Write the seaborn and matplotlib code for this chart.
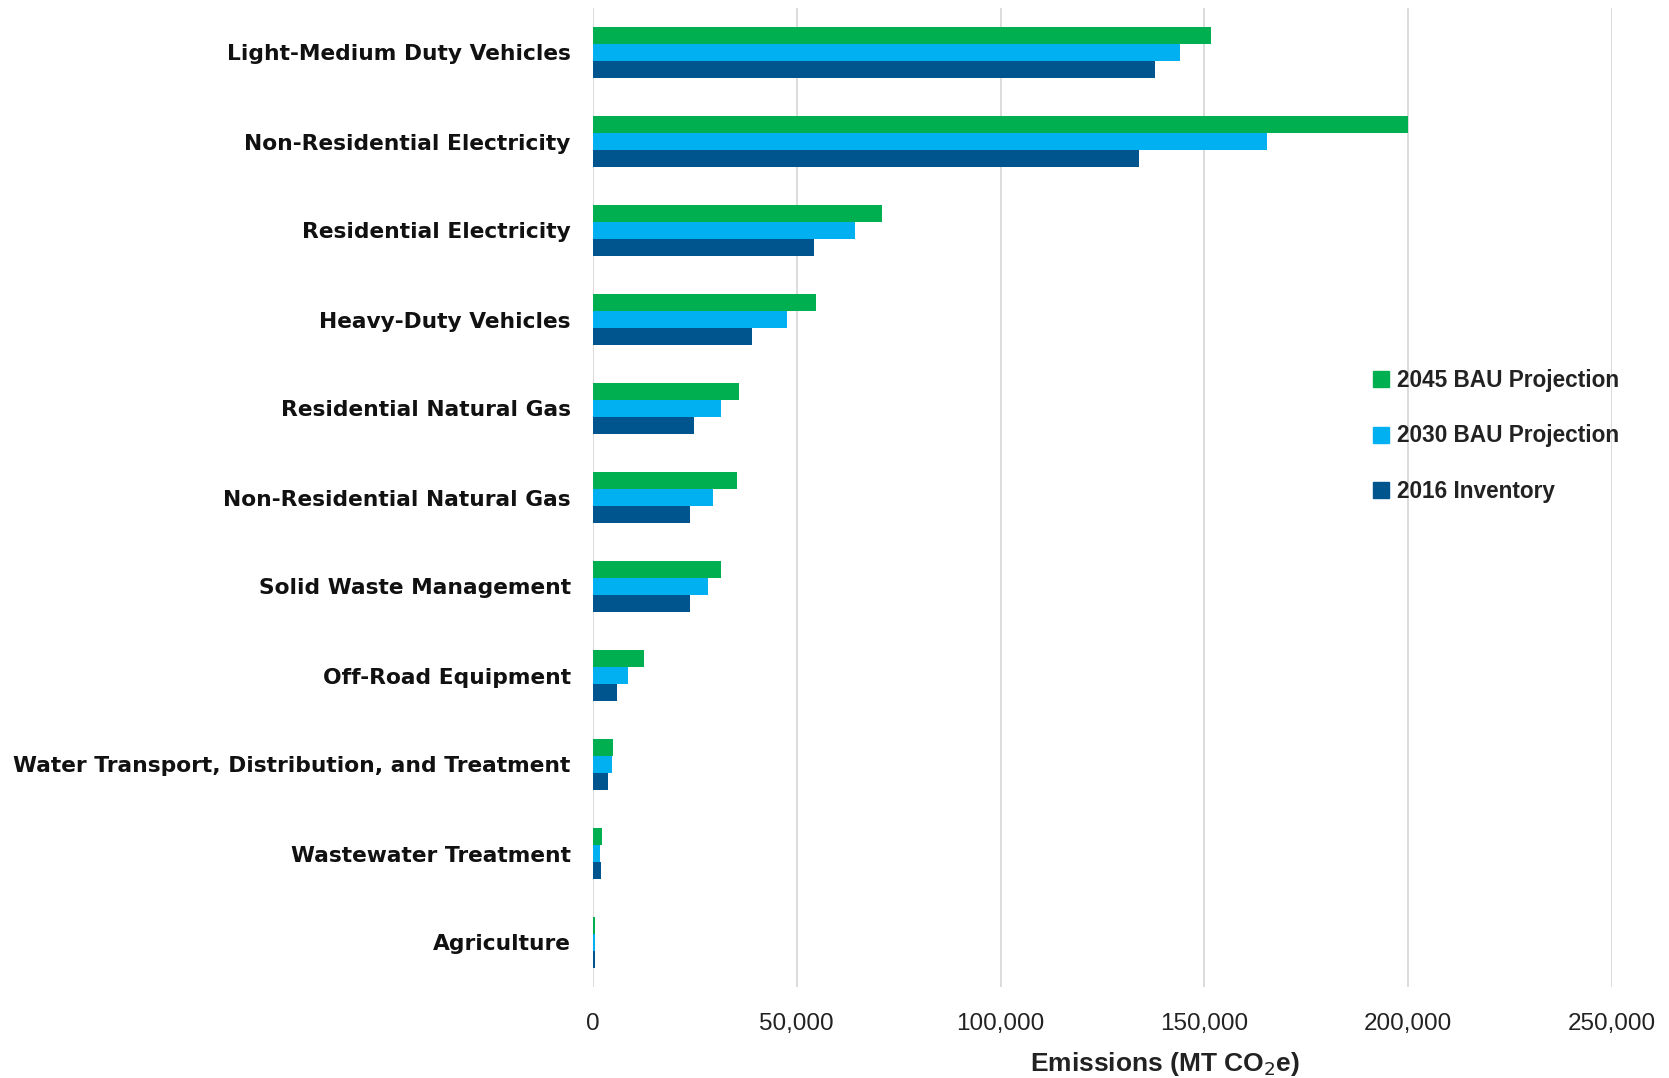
import matplotlib
matplotlib.use("Agg")
import matplotlib.pyplot as plt
from matplotlib.lines import Line2D
from matplotlib import font_manager
import seaborn as sns
import pandas as pd

categories = [
    "Light-Medium Duty Vehicles",
    "Non-Residential Electricity",
    "Residential Electricity",
    "Heavy-Duty Vehicles",
    "Residential Natural Gas",
    "Non-Residential Natural Gas",
    "Solid Waste Management",
    "Off-Road Equipment",
    "Water Transport, Distribution, and Treatment",
    "Wastewater Treatment",
    "Agriculture",
]
bau_2045 = [151600, 199900, 71000, 54600, 35800, 35300, 31300, 12500, 4900, 2200, 600]
bau_2030 = [144000, 165400, 64300, 47500, 31300, 29500, 28200, 8600, 4600, 1800, 500]
inv_2016 = [137800, 133900, 54100, 38900, 24800, 23800, 23800, 6000, 3700, 1900, 500]

series_names = ["2045 BAU Projection", "2030 BAU Projection", "2016 Inventory"]
series_colors = ["#00B050", "#00B0F0", "#00558F"]
x_ticks = [0, 50000, 100000, 150000, 200000, 250000]
x_tick_labels = ["0", "50,000", "100,000", "150,000", "200,000", "250,000"]

frames = []
for name, vals in zip(series_names, [bau_2045, bau_2030, inv_2016]):
    frames.append(pd.DataFrame({"Category": categories, "Series": name, "Value": vals}))
df = pd.concat(frames, ignore_index=True)

sns.set_theme(style="white")
available = {f.name for f in font_manager.fontManager.ttflist}
narrow = "Liberation Sans Narrow" if "Liberation Sans Narrow" in available else "Liberation Sans"

fig = plt.figure(figsize=(16.69, 10.78), dpi=100)
ax = fig.add_axes([593 / 1669, 1 - 987 / 1078, (1612 - 593) / 1669, (987 - 8) / 1078])

sns.barplot(
    data=df, y="Category", x="Value", hue="Series",
    order=categories, hue_order=series_names, palette=series_colors,
    orient="h", width=0.575, saturation=1, errorbar=None, ax=ax, legend=False,
    linewidth=0,
)

ax.set_xlim(0, 250000)
ax.set_ylim(len(categories) - 0.5, -0.5)
ax.set_xticks(x_ticks)
ax.set_xticklabels(x_tick_labels, fontfamily=narrow, fontsize=17.5, color="#222222")
ax.set_yticks(range(len(categories)))
ax.set_yticklabels(categories, fontfamily="DejaVu Sans", fontweight="bold", fontsize=15.7, color="#111111")
ax.tick_params(axis="x", length=0, pad=19)
ax.tick_params(axis="y", length=0, pad=16)
ax.grid(axis="x", color="#D9D9D9", linewidth=1.3)
ax.set_axisbelow(True)
for s in ax.spines.values():
    s.set_visible(False)
ax.set_ylabel("")
ax.set_xlabel("Emissions (MT CO$_2$e)", fontfamily=narrow, fontweight="bold", fontsize=19, color="#222222")
ax.xaxis.set_label_coords(0.561, -0.064)

handles = [Line2D([0], [0], marker="s", linestyle="none", markersize=11,
                  markerfacecolor=c, markeredgecolor=c) for c in series_colors]
leg = fig.legend(
    handles, series_names, loc="center left",
    bbox_to_anchor=(1352 / 1669, 1 - 436 / 1078), frameon=False,
    labelspacing=1.45, handlelength=0.8, handletextpad=0.3,
    prop={"family": "Liberation Sans", "weight": "bold", "size": 16.3},
)
for t in leg.get_texts():
    t.set_color("#222222")

fig.savefig("out.png", dpi=100)
